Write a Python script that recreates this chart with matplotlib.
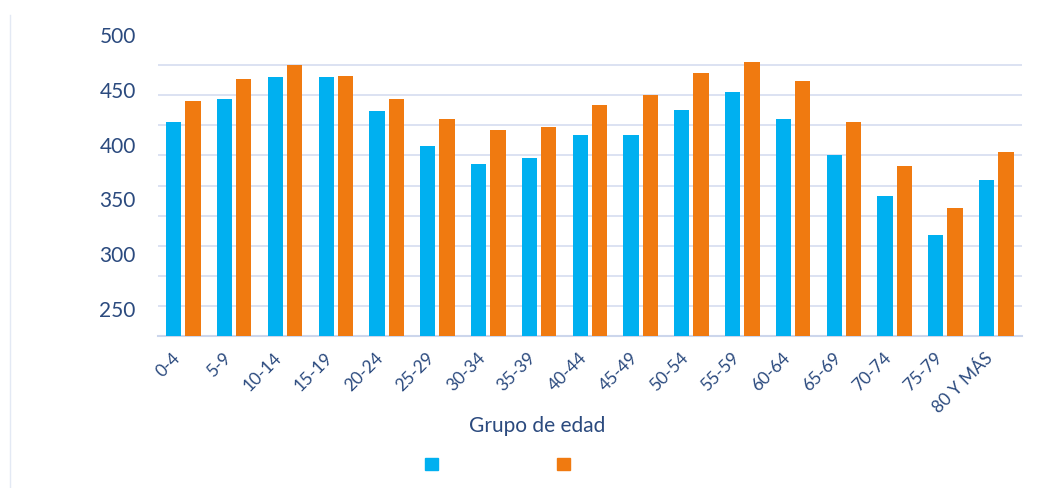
import numpy as np
import matplotlib
matplotlib.use("Agg")
import matplotlib.pyplot as plt
from matplotlib.patches import Patch
from matplotlib.lines import Line2D

plt.rcParams['font.family'] = ['Lato', 'DejaVu Sans']

# data
grupos = ["0-4", "5-9", "10-14", "15-19", "20-24", "25-29", "30-34", "35-39",
          "40-44", "45-49", "50-54", "55-59", "60-64", "65-69", "70-74",
          "75-79", "80 Y MÁS"]
serie_azul = [421, 442, 462, 462, 431, 399, 382, 388, 409, 409, 432, 448,
              423, 390, 353, 317, 368]
serie_naranja = [440, 460, 473, 463, 442, 423, 413, 416, 436, 445, 465, 475,
                 458, 421, 380, 342, 393]
y_labels = [250, 300, 350, 400, 450, 500]

azul = "#00B0F0"
naranja = "#F07A10"
texto = "#2B4A7E"

fig = plt.figure(figsize=(10.5, 4.88), dpi=100)
ax = fig.add_axes([0.1505, 0.3115, 0.8225, 0.6165])

x = np.arange(len(grupos))
w = 0.30
ax.bar(x - 0.19, serie_azul, w, color=azul, zorder=3)
ax.bar(x + 0.19, serie_naranja, w, color=naranja, zorder=3)

ax.set_xlim(-0.5, len(grupos) - 0.5)
ax.set_ylim(225, 500)

# gridlines every 27.5, labels every 50
ax.set_yticks(np.arange(225, 501, 27.5), minor=True)
ax.set_yticks(y_labels)
ax.grid(which='minor', axis='y', color="#D5DDF0", linewidth=1.2, zorder=0)
ax.tick_params(axis='y', which='both', length=0, pad=16, labelsize=15,
               labelcolor=texto)

ax.set_xticks(x)
ax.set_xticklabels(grupos, rotation=45, ha='right', rotation_mode='default')
ax.tick_params(axis='x', length=0, pad=10, labelsize=12.5, labelcolor=texto)

for s in ['left', 'right', 'top']:
    ax.spines[s].set_visible(False)
ax.spines['bottom'].set_color("#CCD6EC")
ax.spines['bottom'].set_linewidth(1.5)

ax.set_xlabel("Grupo de edad", fontsize=15, color=texto)
ax.xaxis.label.set_va('center')
ax.xaxis.set_label_coords(0.439, -0.299)

handles = [Patch(color=azul), Patch(color=naranja)]
ax.legend(handles, [' ', ' '], ncol=2, frameon=False, fontsize=10,
          handlelength=0.95, handleheight=0.95, handletextpad=0,
          columnspacing=8.3, loc='center', bbox_to_anchor=(0.395, -0.4276))

# faint border line on the left of the picture
fig.add_artist(Line2D([0.0095, 0.0095], [0.0, 0.97], color="#E3E9F4",
                      linewidth=1))

fig.savefig("out.png", dpi=100)
